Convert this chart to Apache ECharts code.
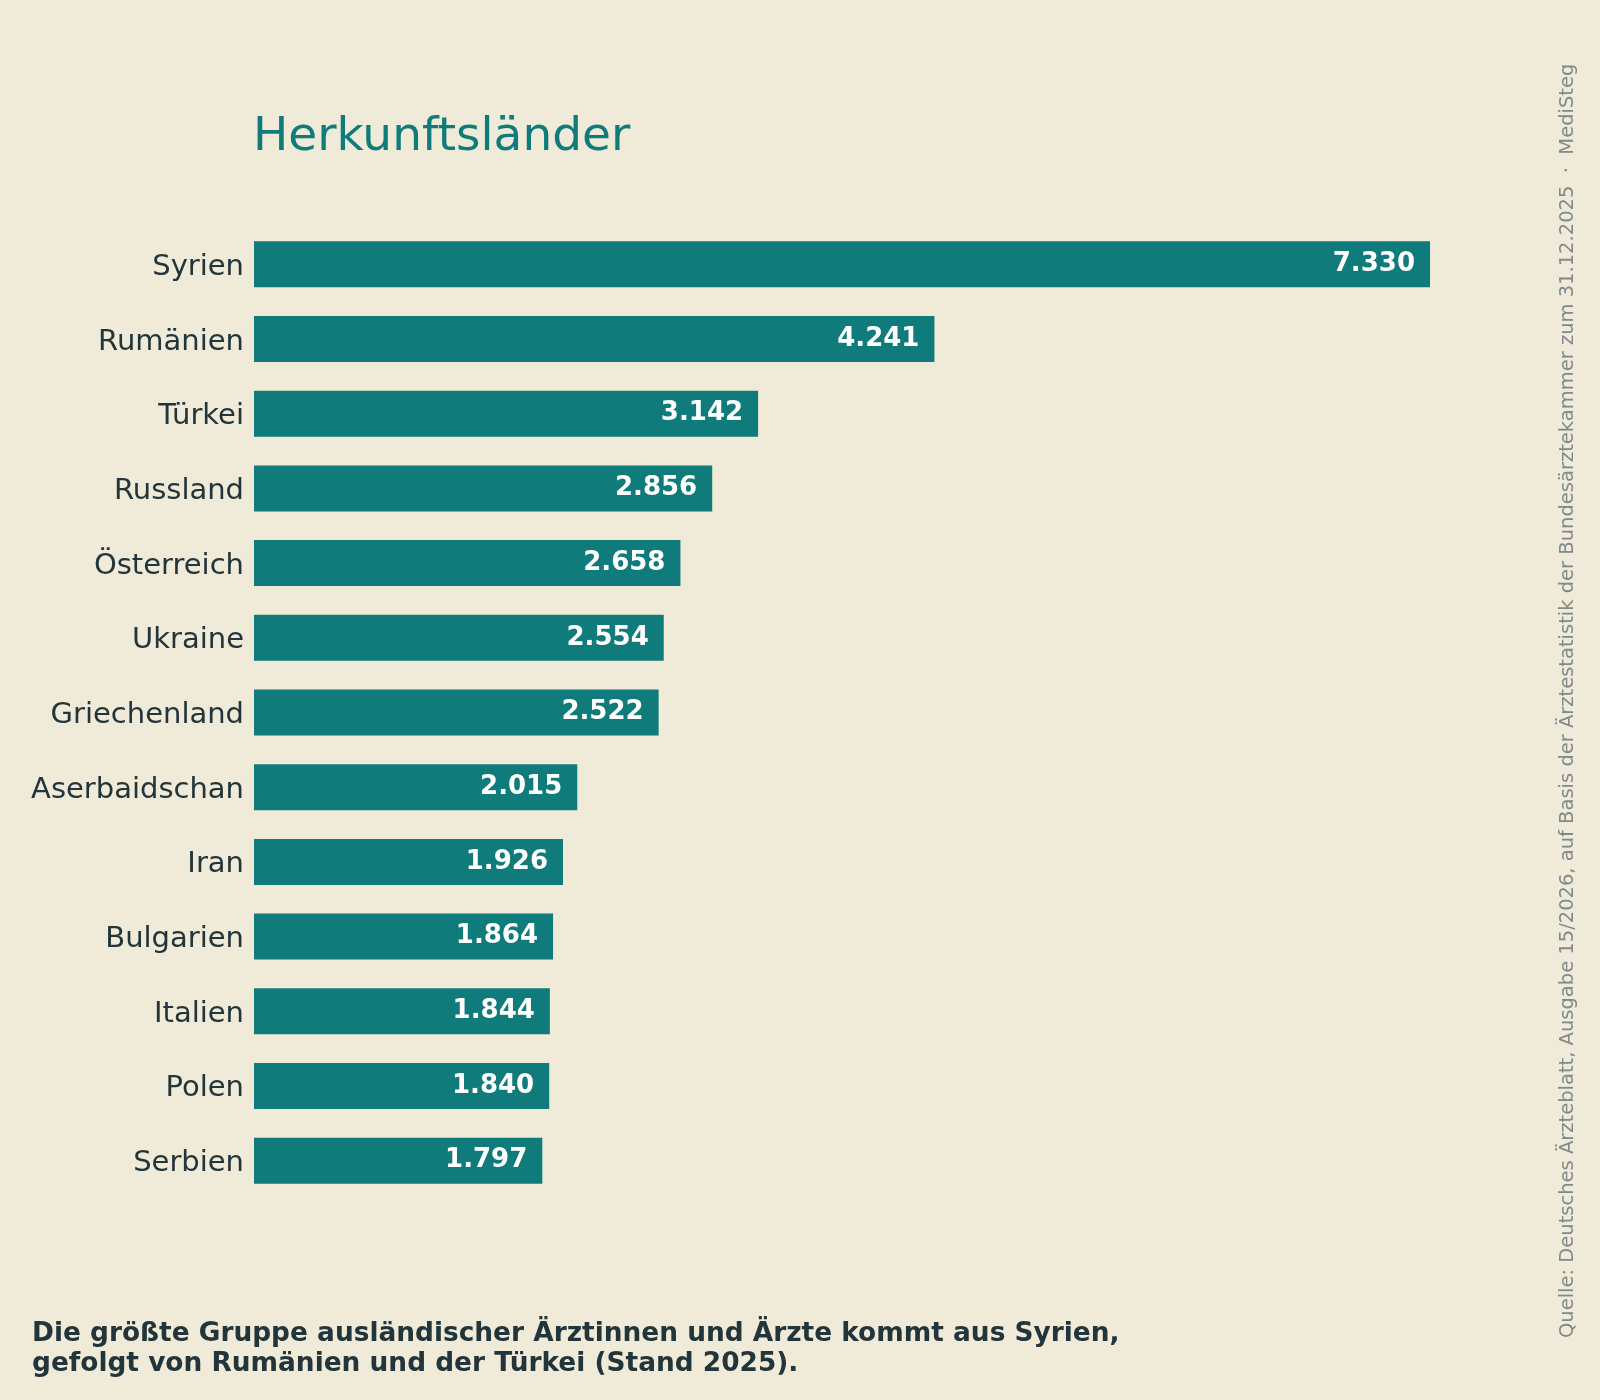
<!DOCTYPE html>
<html>
<head>
<meta charset="utf-8">
<script src="https://cdn.jsdelivr.net/npm/echarts@6/dist/echarts.min.js"></script>
<style>
  html, body { margin: 0; padding: 0; background: #f0ead8; }
  #chart { width: 1600px; height: 1400px; }
</style>
</head>
<body>
<div id="chart"></div>
<script>
var chart = echarts.init(document.getElementById('chart'));

// Herkunftsländer ausländischer Ärztinnen und Ärzte
var countries = ['Syrien', 'Rumänien', 'Türkei', 'Russland', 'Österreich', 'Ukraine',
    'Griechenland', 'Aserbaidschan', 'Iran', 'Bulgarien', 'Italien', 'Polen', 'Serbien'];
var doctors = [7330, 4241, 3142, 2856, 2658, 2554, 2522, 2015, 1926, 1864, 1844, 1840, 1797];

var teal = '#0f7b7a';
var ink = '#22353a';
var font = 'DejaVu Sans';

// 7330 -> "7.330"
var fmt = function(v) {
    return String(v).replace(/\B(?=(\d{3})+(?!\d))/g, '.');
};

var option = {
    backgroundColor: '#f0ead8',
    animation: false,
    title: {
        text: 'Herkunftsländer',
        left: 253,
        top: 114,
        padding: 0,
        textStyle: {
            color: teal,
            fontFamily: font,
            fontWeight: 'normal',
            fontSize: 47
        }
    },
    grid: {
        left: 254,
        right: 170,
        top: 227,
        height: 971
    },
    xAxis: {
        type: 'value',
        min: 0,
        max: 'dataMax',
        show: false
    },
    yAxis: {
        type: 'category',
        data: countries,
        inverse: true,
        axisLine: { show: false },
        axisTick: { show: false },
        splitLine: { show: false },
        axisLabel: {
            margin: 10,
            formatter: function(v) { return '{c|' + v + '}'; },
            rich: {
                c: {
                    color: ink,
                    fontFamily: font,
                    fontSize: 29,
                    padding: [6, 0, 0, 0]
                }
            }
        }
    },
    series: [{
        type: 'bar',
        data: doctors,
        barWidth: 46,
        itemStyle: { color: teal },
        label: {
            show: true,
            position: 'insideRight',
            distance: 15,
            color: '#ffffff',
            fontFamily: font,
            fontWeight: 'bold',
            fontSize: 26,
            formatter: function(p) { return fmt(p.value); }
        }
    }],
    graphic: [
        {
            type: 'text',
            left: 32,
            top: 1319,
            style: {
                text: 'Die größte Gruppe ausländischer Ärztinnen und Ärzte kommt aus Syrien,\ngefolgt von Rumänien und der Türkei (Stand 2025).',
                fill: ink,
                font: 'bold 26.4px "DejaVu Sans"',
                lineHeight: 30
            }
        },
        {
            type: 'text',
            x: 1568,
            y: 1338,
            rotation: Math.PI / 2,
            style: {
                text: 'Quelle: Deutsches Ärzteblatt, Ausgabe 15/2026, auf Basis der Ärztestatistik der Bundesärztekammer zum 31.12.2025  ·  MediSteg',
                fill: '#808a8c',
                font: '19.5px "DejaVu Sans"',
                textAlign: 'left',
                textVerticalAlign: 'middle'
            }
        }
    ]
};

chart.setOption(option);
</script>
</body>
</html>
